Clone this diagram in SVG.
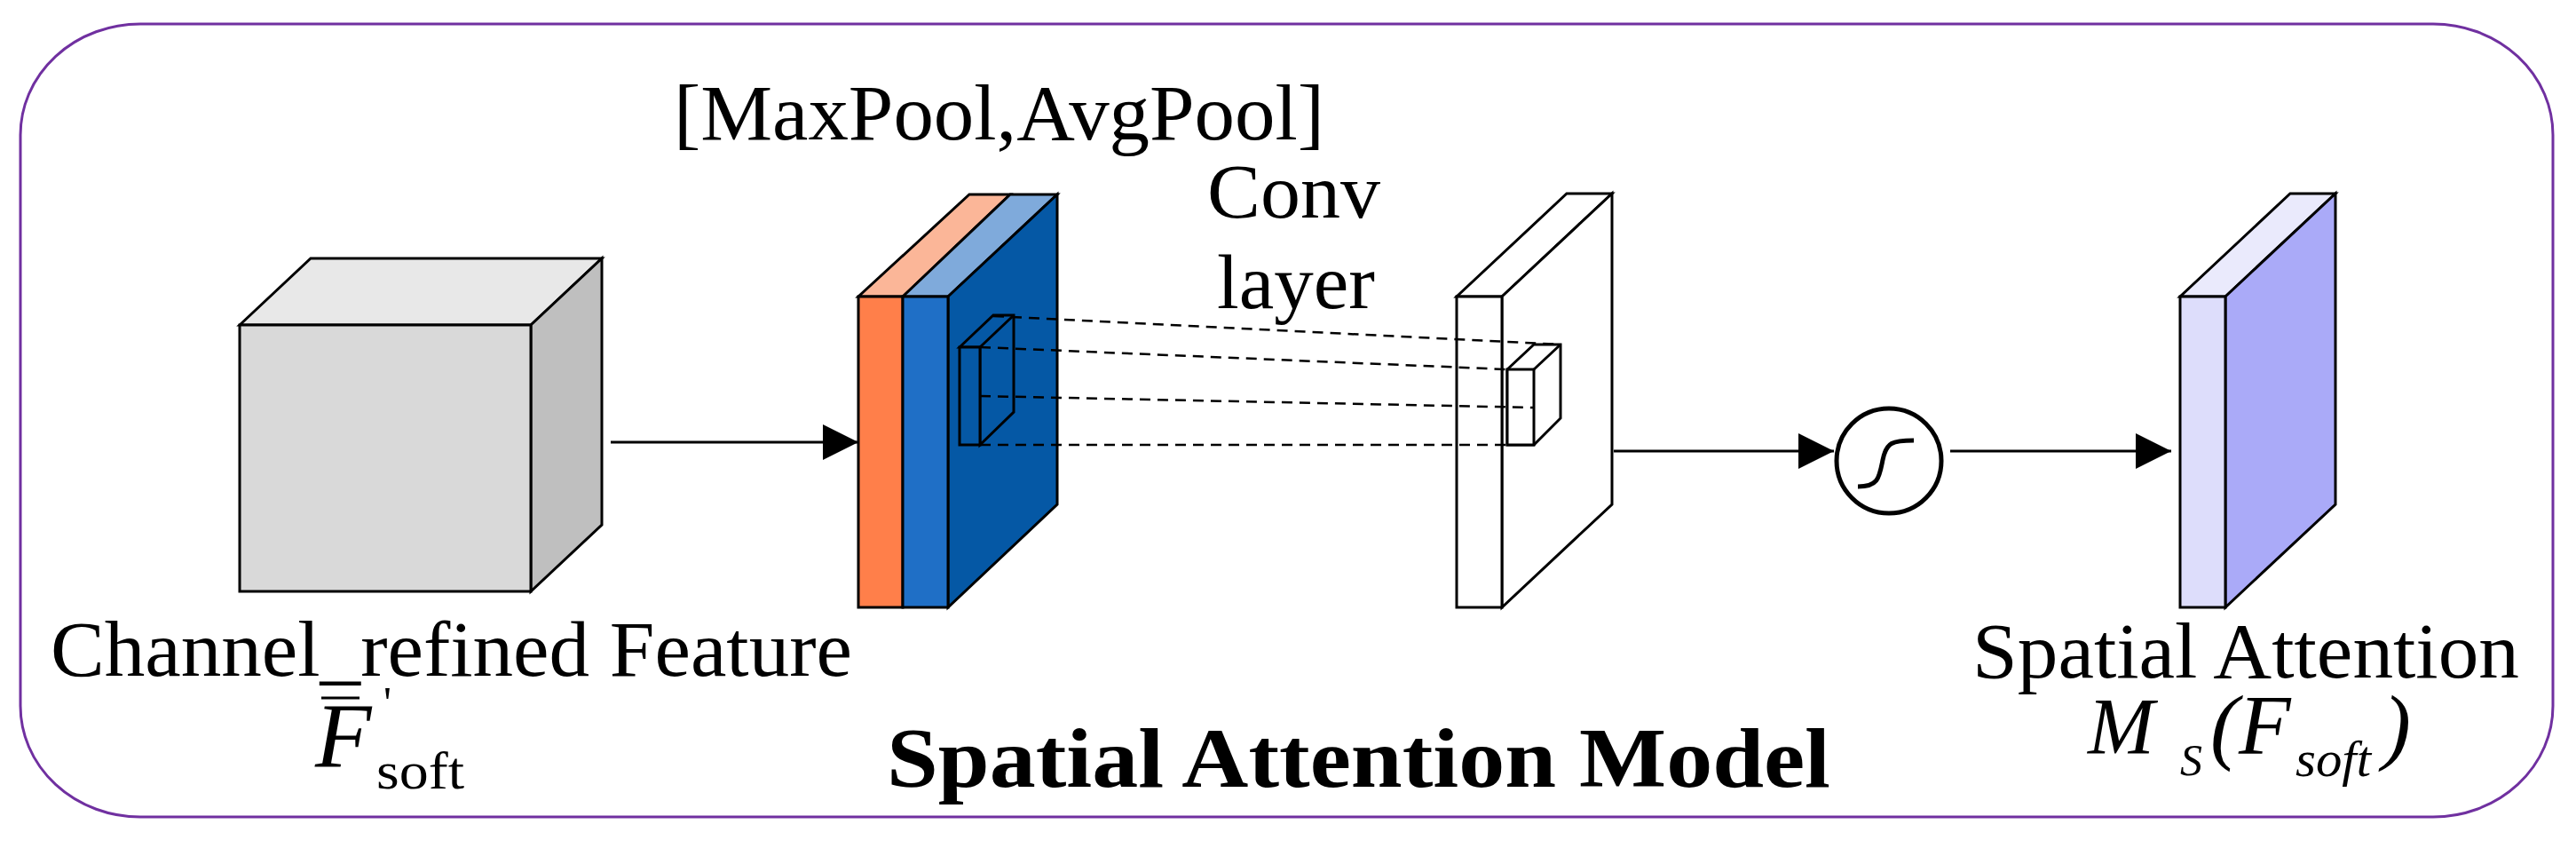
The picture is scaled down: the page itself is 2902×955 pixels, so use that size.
<svg xmlns="http://www.w3.org/2000/svg" width="2902" height="955" viewBox="0 0 2902 955">
<defs>
<style>
.s{stroke:#000;stroke-width:3;stroke-linejoin:miter}
.d{stroke:#000;stroke-width:2.5;stroke-dasharray:12 8;fill:none}
.t{font-family:"Liberation Serif","Times New Roman",serif;fill:#000}
</style>
<marker id="a" viewBox="0 0 40 40" refX="40" refY="20" markerWidth="40" markerHeight="40" markerUnits="userSpaceOnUse" orient="auto"><path d="M0,0 L40,20 L0,40 z" fill="#000"/></marker>
</defs>
<rect x="23" y="27" width="2853" height="893" rx="135" ry="125" fill="#fff" stroke="#7030A0" stroke-width="3"/>
<g id="cube">
<polygon class="s" points="270,366 350,291 678,291 598,366" fill="#E8E8E8"/>
<polygon class="s" points="598,366 678,291 678,591 598,666" fill="#BFBFBF"/>
<rect class="s" x="270" y="366" width="328" height="300" fill="#D9D9D9"/>
</g>
<g id="pool">
<polygon class="s" points="967,334 1017,334 1138,219 1092,219" fill="#FBB698"/>
<polygon class="s" points="1017,334 1068,334 1191,219 1138,219" fill="#7FAADB"/>
<polygon class="s" points="1068,334 1191,219 1191,568 1068,684" fill="#0558A5"/>
<rect class="s" x="967" y="334" width="50" height="350" fill="#FF7F4A"/>
<rect class="s" x="1017" y="334" width="51" height="350" fill="#1F6FC6"/>
<polygon class="s" points="1081,391 1119,355 1142,355 1142,464 1104,501 1104,391" fill="#0558A5"/>
<rect class="s" x="1081" y="391" width="23" height="110" fill="#0558A5"/>
<line class="s" x1="1104" y1="391" x2="1142" y2="355"/>
</g>
<g id="conv">
<polygon class="s" points="1641,334 1692,334 1816,218 1765,218" fill="#fff"/>
<polygon class="s" points="1692,334 1816,218 1816,568 1692,684" fill="#fff"/>
<rect class="s" x="1641" y="334" width="51" height="350" fill="#fff"/>
<polygon class="s" points="1698,416 1728,388 1758,388 1758,471 1728,501 1698,501" fill="#fff"/>
<rect class="s" x="1698" y="416" width="30" height="85" fill="#fff"/>
<line class="s" x1="1728" y1="416" x2="1758" y2="388"/>
</g>
<g id="sigmoid">
<circle cx="2128" cy="519" r="59" fill="#fff" stroke="#000" stroke-width="5"/>
<path d="M2093,548 C2116,548 2117,538 2121,518 C2125,498 2132,496 2156,496" fill="none" stroke="#000" stroke-width="5"/>
</g>
<g id="output">
<polygon class="s" points="2456,334 2507,334 2631,218 2580,218" fill="#EAEAFC"/>
<polygon class="s" points="2507,334 2631,218 2631,568 2507,684" fill="#AAAAF8"/>
<rect class="s" x="2456" y="334" width="51" height="350" fill="#DDDDFB"/>
</g>
<g id="connectors">
<line x1="688" y1="498" x2="967" y2="498" stroke="#000" stroke-width="3" marker-end="url(#a)"/>
<line x1="1818" y1="508" x2="2066" y2="508" stroke="#000" stroke-width="3" marker-end="url(#a)"/>
<line x1="2197" y1="508" x2="2446" y2="508" stroke="#000" stroke-width="3" marker-end="url(#a)"/>
<line class="d" x1="1119" y1="356" x2="1758" y2="388"/>
<line class="d" x1="1104" y1="391" x2="1698" y2="416"/>
<line class="d" x1="1104" y1="446" x2="1728" y2="459"/>
<line class="d" x1="1104" y1="501" x2="1698" y2="501"/>
</g>
<g id="labels">
<text class="t" x="759" y="157" font-size="88" textLength="733" lengthAdjust="spacingAndGlyphs">[MaxPool,AvgPool]</text>
<text class="t" x="1360" y="245" font-size="86" textLength="195" lengthAdjust="spacingAndGlyphs">Conv</text>
<text class="t" x="1371" y="347" font-size="86" textLength="178" lengthAdjust="spacingAndGlyphs">layer</text>
<text class="t" x="57" y="761" font-size="88" textLength="903" lengthAdjust="spacingAndGlyphs">Channel_refined Feature</text>
<line x1="362" y1="786" x2="405" y2="786" stroke="#000" stroke-width="3"/>
<text class="t" x="355" y="864" font-size="104" font-style="italic">F</text>
<text class="t" x="432" y="808" font-size="50">'</text>
<text class="t" x="424" y="888" font-size="60" textLength="99" lengthAdjust="spacingAndGlyphs">soft</text>
<text class="t" x="999" y="886" font-size="96" font-weight="bold" textLength="1063" lengthAdjust="spacingAndGlyphs">Spatial Attention Model</text>
<text class="t" x="2222" y="763" font-size="88" textLength="616" lengthAdjust="spacingAndGlyphs">Spatial Attention</text>
<text class="t" x="2352" y="849" font-size="90" font-style="italic">M</text>
<text class="t" x="2456" y="873" font-size="50" font-style="italic">S</text>
<text class="t" x="2490" y="849" font-size="96" font-style="italic">(F</text>
<text class="t" x="2586" y="874" font-size="56" font-style="italic" textLength="85" lengthAdjust="spacingAndGlyphs">soft</text>
<text class="t" x="2684" y="849" font-size="96" font-style="italic">)</text>
</g>
</svg>
